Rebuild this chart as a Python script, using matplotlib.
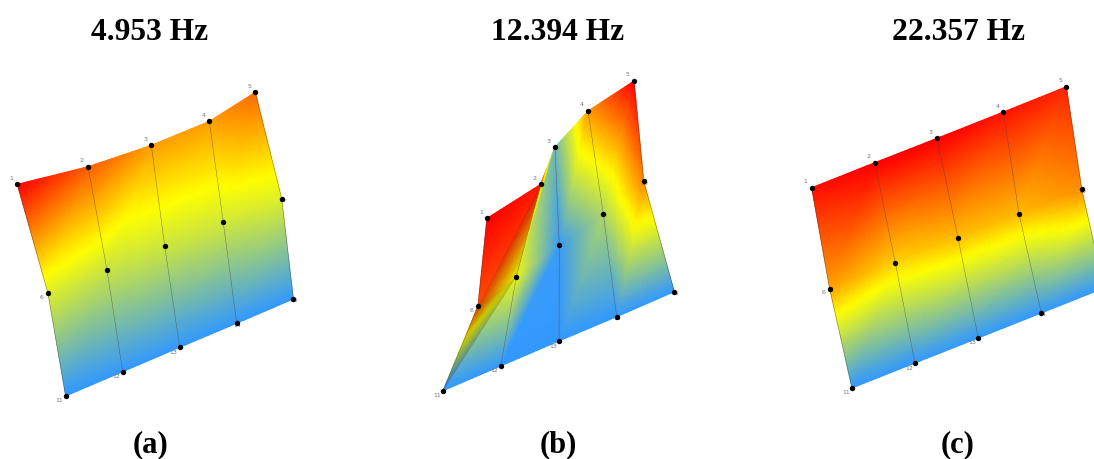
import numpy as np
import matplotlib
matplotlib.use('Agg')
import matplotlib.pyplot as plt
from matplotlib.colors import LinearSegmentedColormap
from matplotlib.tri import Triangulation, UniformTriRefiner, LinearTriInterpolator

titles = ['4.953 Hz', '12.394 Hz', '22.357 Hz']
captions = ['(a)', '(b)', '(c)']
title_x = [150, 558, 958]
caption_x = [150, 558, 958]

# node positions of the 5x3 grid (image pixels), row by row, nodes 1..15
xa = [17.3, 88, 151.3, 209.3, 255.3, 48, 107, 164.7, 223.3, 281.7, 65.7, 122.7, 179.7, 236.7, 293.3]
ya = [184.3, 166.7, 145.3, 121.3, 92.3, 293.3, 270, 246, 222.3, 198.7, 396, 371.7, 347.3, 323.3, 299]
xb = [487, 540.7, 555, 588, 634, 478, 516.3, 559.3, 603.3, 643.7, 443, 500.7, 559, 616.7, 674.3]
yb = [218.3, 184.3, 147.3, 111, 81, 306, 277, 245.3, 214, 181.3, 390.7, 366, 341, 316.7, 291.7]
xc = [811.7, 874.7, 937, 1003.3, 1066.3, 829.7, 895.3, 958, 1019, 1081.7, 852, 915, 978.3, 1041.3, 1104]
yc = [187.7, 162.7, 138.3, 112, 86.7, 288.7, 263, 238, 213.7, 189.3, 388, 363, 338, 313, 288]

# modal amplitude at the nodes, 0 = blue, 1 = red
za = [1.0, 0.82, 0.69, 0.69, 0.79, 0.42, 0.37, 0.38, 0.39, 0.42, 0, 0, 0, 0, 0]
zb = [1.0, 0.95, 0.15, 0.7, 1.0, 0.85, 0.45, 0.02, 0.3, 0.74, 0, 0, 0, 0, 0]
zc = [0.97, 1.0, 1.0, 0.96, 0.93, 0.68, 0.59, 0.625, 0.635, 0.72, 0, 0, 0, 0, 0]

labels = [str(i) for i in range(1, 16)]

cmap = LinearSegmentedColormap.from_list('mode', ['#3399ff', '#ffff00', '#ff0000'])

plt.rcParams['font.family'] = ['Liberation Serif', 'DejaVu Serif']


def cell_triangles():
    tris = []
    for r in range(2):
        for c in range(4):
            tl = r * 5 + c
            tris.append([tl, tl + 1, tl + 5])
            tris.append([tl + 1, tl + 6, tl + 5])
    return tris


def draw_mode(ax, x, y, z):
    x = np.array(x)
    y = np.array(y)
    z = np.array(z, dtype=float)
    tri = Triangulation(x, y, cell_triangles())
    refiner = UniformTriRefiner(tri)
    interp = LinearTriInterpolator(tri, z)
    fine, fine_z = refiner.refine_field(z, triinterpolator=interp, subdiv=4)
    ax.tripcolor(fine, fine_z, shading='gouraud', cmap=cmap, vmin=0, vmax=1, rasterized=True)

    # column lines of the mesh
    for c in range(5):
        ax.plot(x[c::5], y[c::5], color='#444444', lw=0.35, alpha=0.7, zorder=3)

    for i, lab in enumerate(labels):
        if i < 5:
            dx, dy = -6, -6
        elif i >= 10:
            dx, dy = -6, 5
        else:
            dx, dy = -6, 4
        if i in (9, 13, 14):
            dx, dy = 1, 2
        if i in (6, 7, 8) or x[i] + dx > 1088:
            continue
        ax.text(x[i] + dx, y[i] + dy, lab, fontsize=4.5, color='#777777',
                family='DejaVu Sans', ha='center', va='center', zorder=2.5)
    ax.scatter(x, y, s=15, color='black', linewidths=0, zorder=4)


fig = plt.figure(figsize=(10.94, 4.59), dpi=100)
ax = fig.add_axes([0, 0, 1, 1])

draw_mode(ax, xa, ya, za)
draw_mode(ax, xb, yb, zb)
draw_mode(ax, xc, yc, zc)

# darker shading where the surface of mode (b) folds over
xb_arr = np.array(xb)
yb_arr = np.array(yb)
for idx, shade in (([5, 6, 10], 0.2), ([1, 6, 5], 0.13)):
    ax.fill(xb_arr[idx], yb_arr[idx], color='black', alpha=shade, lw=0, zorder=2)

for t, c, tx, cx in zip(titles, captions, title_x, caption_x):
    ax.text(tx, 40, t, fontsize=22.7, fontweight='bold', ha='center', va='baseline')
    ax.text(cx, 452, c, fontsize=22, fontweight='bold', ha='center', va='baseline')

ax.set_xlim(0, 1094)
ax.set_ylim(459, 0)
ax.axis('off')
fig.savefig('out.png', dpi=100)
